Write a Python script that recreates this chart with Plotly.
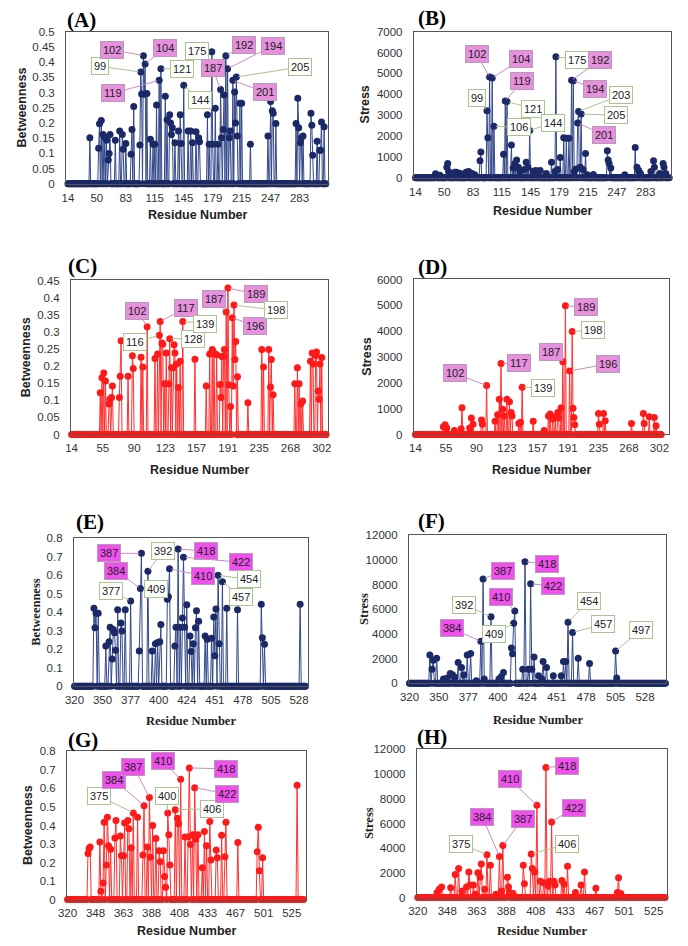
import plotly.graph_objects as go

W, H = 688, 946

# ---------------- data (category position index -> value) ----------------
AB_TICKS = [14, 50, 83, 115, 145, 179, 215, 247, 283]
CD_TICKS = [14, 55, 90, 123, 157, 191, 235, 268, 302]
EF_TICKS = [320, 350, 377, 400, 424, 451, 478, 505, 528]
GH_TICKS = [320, 348, 363, 388, 408, 433, 467, 501, 525]

A_POS = [25, 35, 36, 38, 40, 42, 44, 46, 47, 48, 54, 59, 62, 63, 66, 72, 73, 75, 82, 83, 84, 86, 87, 88, 90,
         94, 97, 99, 101, 104, 106, 111, 113, 116, 117, 118, 119, 122, 126, 128, 129, 132, 137, 140, 142, 146,
         149, 150, 159, 161, 164, 165, 168, 171, 174, 175, 177, 178, 180, 182, 184, 185, 188, 190, 191, 192,
         193, 196, 198, 208, 228, 231, 233, 234, 237, 260, 262, 263, 265, 266, 268, 277, 278, 279, 284, 287,
         288, 289, 292]
A_VAL = [0.151, 0.117, 0.197, 0.208, 0.162, 0.153, 0.143, 0.078, 0.099, 0.162, 0.143, 0.173, 0.162, 0.113,
         0.132, 0.097, 0.178, 0.254, 0.127, 0.367, 0.295, 0.421, 0.294, 0.394, 0.297, 0.146, 0.13, 0.13, 0.259,
         0.340, 0.378, 0.288, 0.21, 0.227, 0.2, 0.162, 0.184, 0.135, 0.173, 0.227, 0.132, 0.324, 0.173, 0.173,
         0.135, 0.171, 0.151, 0.138, 0.227, 0.13, 0.434, 0.13, 0.248, 0.13, 0.31, 0.151, 0.178, 0.292, 0.421,
         0.378, 0.151, 0.173, 0.34, 0.302, 0.2, 0.351, 0.157, 0.265, 0.265, 0.13, 0.157, 0.27, 0.24, 0.232,
         0.198, 0.198, 0.281, 0.184, 0.135, 0.151, 0.157, 0.232, 0.192, 0.094, 0.14, 0.11, 0.11, 0.203, 0.187]
A_COUNT = 295
A_LAB = [99, 102, 104, 119, 121, 144, 175, 187, 192, 194, 201, 205]
A_LAB_POS = [83, 86, 88, 104, 106, 132, 164, 174, 180, 182, 188, 192]

B_POS = [23, 24, 28, 36, 37, 38, 45, 47, 51, 58, 59, 61, 65, 68, 74, 75, 82, 83, 85, 88, 90, 101, 103, 105,
         110, 112, 114, 116, 118, 120, 125, 127, 129, 131, 135, 138, 140, 143, 150, 156, 160, 161, 163, 166,
         170, 173, 176, 179, 181, 182, 184, 186, 187, 189, 190, 192, 195, 197, 204, 220, 221, 222, 224, 240,
         252, 254, 256, 258, 270, 273, 274, 280, 284, 285, 287]
B_VAL = [190, 140, 120, 500, 690, 300, 270, 270, 220, 270, 270, 300, 200, 150, 820, 1240, 3210, 1920, 4830,
         4780, 2470, 1130, 3680, 3650, 1570, 470, 690, 850, 500, 300, 400, 740, 500, 2260, 310, 350, 250, 350,
         200, 740, 300, 5800, 400, 975, 1920, 1890, 1890, 4670, 4650, 300, 420, 2630, 3180, 500, 3050, 400,
         1160, 150, 160, 1290, 850, 690, 470, 150, 1450, 500, 350, 200, 300, 820, 500, 200, 690, 500, 200]
B_COUNT = 292
B_LAB = [99, 102, 104, 106, 119, 121, 144, 175, 192, 194, 201, 203, 205]
B_LAB_POS = [82, 85, 88, 90, 103, 105, 131, 161, 179, 181, 186, 187, 190]

C_POS = [33, 35, 37, 39, 43, 44, 46, 47, 55, 56, 57, 65, 70, 71, 80, 82, 87, 96, 99, 101, 102, 104, 105, 107,
         109, 112, 113, 115, 117, 118, 119, 121, 123, 125, 128, 142, 155, 159, 162, 164, 167, 171, 172, 173,
         175, 176, 178, 180, 181, 183, 185, 186, 187, 188, 189, 191, 203, 219, 221, 227, 229, 230, 232, 257,
         260, 262, 264, 266, 275, 277, 278, 281, 282, 284, 285, 286, 288]
C_VAL = [0.122, 0.166, 0.18, 0.156, 0.089, 0.103, 0.108, 0.142, 0.108, 0.17, 0.274, 0.17, 0.23, 0.193, 0.226,
         0.197, 0.315, 0.222, 0.235, 0.29, 0.33, 0.267, 0.264, 0.148, 0.238, 0.148, 0.28, 0.195, 0.195, 0.262,
         0.238, 0.206, 0.137, 0.214, 0.33, 0.22, 0.142, 0.235, 0.248, 0.238, 0.233, 0.146, 0.108, 0.228, 0.228,
         0.248, 0.358, 0.428, 0.145, 0.082, 0.341, 0.142, 0.378, 0.219, 0.272, 0.169, 0.093, 0.248, 0.197,
         0.248, 0.139, 0.219, 0.116, 0.148, 0.195, 0.148, 0.089, 0.098, 0.214, 0.238, 0.206, 0.231, 0.241,
         0.127, 0.103, 0.206, 0.225]
C_COUNT = 294
C_LAB = [102, 116, 117, 128, 139, 187, 189, 196, 198]
C_LAB_POS = [87, 101, 102, 113, 128, 178, 180, 185, 187]

D_POS = [33, 35, 37, 46, 54, 55, 64, 66, 68, 78, 79, 84, 94, 97, 99, 101, 103, 105, 108, 111, 113, 114, 122,
         124, 126, 139, 152, 157, 159, 162, 165, 168, 169, 172, 174, 177, 182, 185, 186, 187, 188, 216, 217,
         222, 224, 255, 269, 270, 276, 282, 284]
D_VAL = [300, 380, 250, 150, 220, 1040, 250, 635, 400, 560, 400, 1900, 510, 760, 1360, 2750, 980, 720, 1360,
         1270, 850, 720, 430, 470, 1830, 510, 150, 720, 790, 600, 690, 850, 635, 1040, 2820, 4980, 2460, 3990,
         1020, 660, 380, 810, 400, 810, 530, 430, 810, 430, 690, 660, 340]
D_COUNT = 291
D_LAB = [102, 117, 139, 187, 189, 196, 198]
D_LAB_POS = [84, 101, 126, 174, 177, 182, 185]

E_POS = [18, 19, 20, 22, 29, 32, 33, 35, 36, 37, 38, 40, 43, 44, 47, 52, 60, 61, 62, 68, 72, 75, 77, 79, 80,
         86, 87, 88, 93, 94, 96, 98, 100, 101, 102, 104, 107, 108, 110, 112, 113, 115, 121, 123, 127, 129, 130,
         131, 133, 134, 137, 141, 151, 173, 174, 176, 209]
E_VAL = [0.422, 0.316, 0.395, 0.395, 0.218, 0.241, 0.319, 0.147, 0.307, 0.289, 0.195, 0.413, 0.342, 0.298,
         0.413, 0.461, 0.191, 0.528, 0.718, 0.621, 0.191, 0.23, 0.236, 0.241, 0.333, 0.47, 0.484, 0.635, 0.218,
         0.319, 0.741, 0.319, 0.369, 0.697, 0.319, 0.44, 0.271, 0.188, 0.23, 0.316, 0.408, 0.351, 0.271, 0.254,
         0.259, 0.374, 0.165, 0.418, 0.599, 0.23, 0.564, 0.422, 0.413, 0.443, 0.262, 0.227, 0.443]
E_COUNT = 215
E_LAB = [377, 384, 387, 392, 409, 410, 418, 422, 454, 457]
E_LAB_POS = [52, 61, 62, 68, 87, 88, 96, 101, 133, 137]

F_POS = [18, 20, 21, 24, 30, 33, 36, 38, 40, 43, 46, 48, 51, 54, 59, 63, 65, 66, 72, 79, 81, 83, 90, 91, 92,
         93, 100, 102, 105, 107, 108, 110, 114, 117, 118, 121, 127, 134, 136, 138, 140, 144, 149, 159, 182, 183]
F_VAL = [2290, 1140, 1860, 2020, 350, 400, 800, 690, 480, 1680, 1280, 690, 2290, 2420, 210, 3400, 8460, 350,
         5400, 350, 530, 880, 2870, 2390, 4870, 5850, 1140, 9840, 1140, 8060, 1140, 2130, 610, 350, 1760, 1280,
         610, 610, 1760, 1760, 4950, 4120, 2020, 1600, 2610, 430]
F_COUNT = 227
F_LAB = [384, 387, 392, 409, 410, 418, 422, 454, 457, 497]
F_LAB_POS = [63, 65, 72, 92, 93, 102, 107, 140, 144, 182]

G_POS = [19, 20, 21, 30, 31, 33, 34, 36, 37, 38, 40, 44, 45, 49, 50, 52, 53, 56, 57, 59, 61, 65, 70, 71, 74,
         76, 77, 79, 82, 85, 86, 89, 90, 91, 93, 94, 95, 100, 102, 103, 105, 109, 112, 113, 114, 116, 118, 119,
         121, 125, 127, 129, 132, 133, 138, 139, 143, 146, 147, 158, 176, 177, 178, 181, 213]
G_VAL = [0.249, 0.276, 0.284, 0.311, 0.044, 0.089, 0.418, 0.187, 0.444, 0.29, 0.272, 0.332, 0.427, 0.343,
         0.236, 0.236, 0.414, 0.427, 0.382, 0.279, 0.468, 0.444, 0.24, 0.507, 0.284, 0.551, 0.228, 0.4, 0.329,
         0.263, 0.204, 0.263, 0.124, 0.066, 0.468, 0.35, 0.187, 0.485, 0.439, 0.409, 0.649, 0.338, 0.338, 0.711,
         0.297, 0.35, 0.604, 0.325, 0.35, 0.172, 0.368, 0.29, 0.421, 0.213, 0.267, 0.226, 0.347, 0.231, 0.418,
         0.308, 0.258, 0.391, 0.155, 0.226, 0.617]
G_COUNT = 220
G_LAB = [375, 384, 387, 400, 406, 410, 418, 422]
G_LAB_POS = [61, 71, 76, 93, 100, 105, 113, 118]

H_POS = [17, 19, 21, 29, 33, 36, 39, 43, 45, 46, 49, 51, 53, 55, 56, 59, 61, 64, 69, 72, 74, 75, 79, 80, 81,
         84, 93, 94, 100, 101, 103, 105, 108, 111, 113, 115, 116, 118, 120, 121, 127, 129, 132, 139, 144, 147,
         157, 176, 177, 179]
H_VAL = [400, 670, 850, 800, 1870, 2350, 530, 850, 2080, 1010, 1010, 270, 2000, 1650, 2720, 670, 3470, 2610,
         270, 3330, 530, 4210, 1650, 850, 400, 320, 2610, 1120, 3520, 2350, 2080, 7470, 1330, 1200, 10530, 930,
         1330, 6130, 1330, 1010, 1390, 1070, 2530, 400, 1010, 2080, 750, 400, 1600, 320]
H_COUNT = 219
H_LAB = [375, 384, 387, 406, 410, 418, 422]
H_LAB_POS = [61, 72, 75, 100, 105, 113, 118]

PINK_AD = {104, 119, 192, 194, 201, 102, 117, 187, 189, 196}
PINK_EH = {384, 387, 410, 418, 422}

# ---------------- styling / placement ----------------
NAVY = "#1b2a66"
NAVY_LINE = "#34488a"
RED = "#ff1a1a"
RED_LINE = "#ff3030"
FRAME = "#555555"
SANS = "Liberation Sans, Arial, sans-serif"
SERIF = "Liberation Serif, Times New Roman, serif"

A_OFFS = [(-41, -6), (-31, -6), (20, -16), (-46, 13), (21, 0), (16, 15), (-15, -1), (-8, -21), (18, -11),
          (45, -23), (32, 12), (64, -10)]
B_OFFS = [(-10, -13), (-13, -23), (29, -19), (25, 1), (17, -20), (26, 7), (23, -8), (21, 3), (28, -20),
          (22, 8), (26, 12), (42, -16), (35, 1)]
C_OFFS = [(-10, -16), (-24, 7), (26, -14), (23, 0), (22, 2), (-12, -13), (28, 6), (23, 8), (42, 5)]
D_OFFS = [(-32, -12), (18, 0), (21, 1), (-12, -10), (21, 1), (38, -7), (21, -1)]
E_OFFS = [(-20, -10), (-24, -18), (-32, 0), (15, -20), (-12, -8), (33, 7), (28, 2), (57, 5), (31, 4), (19, 15)]
F_OFFS = [(-29, -13), (20, -8), (-27, -12), (-20, 11), (-14, -14), (22, 2), (22, 2), (21, -21), (30, -8),
          (25, -21)]
G_OFFS = [(-34, -17), (-30, -26), (-16, -31), (-1, -17), (37, -1), (-18, -18), (37, 1), (32, 6)]
H_OFFS = [(-26, -11), (-17, -39), (20, -27), (36, -10), (-27, -26), (21, -2), (22, -14)]

panels = [
    dict(letter="(A)", pos=A_POS, val=A_VAL, n=A_COUNT, step=33, ticks=AB_TICKS, lab=A_LAB, labpos=A_LAB_POS,
         offs=A_OFFS, pink=PINK_AD, pinkc="#e690de", red=False, frame=(58, 325, 26, 180), xr=(-2.2, 296.8),
         ymax=0.5, dy=0.05, ytitle="Betweenness", yfont=SANS, ytx=13, xfont=SANS, xty=212, letterxy=(74, 14)),
    dict(letter="(B)", pos=B_POS, val=B_VAL, n=B_COUNT, step=33, ticks=AB_TICKS, lab=B_LAB, labpos=B_LAB_POS,
         offs=B_OFFS, pink=PINK_AD, pinkc="#e690de", red=False, frame=(412, 674, 26, 174), xr=(-1.9, 293.3),
         ymax=7000, dy=1000, ytitle="Stress", yfont=SANS, ytx=362, xfont=SANS, xty=208, letterxy=(431, 12)),
    dict(letter="(C)", pos=C_POS, val=C_VAL, n=C_COUNT, step=36, ticks=CD_TICKS, lab=C_LAB, labpos=C_LAB_POS,
         offs=C_OFFS, pink=PINK_AD, pinkc="#e690de", red=True, frame=(63, 325, 278, 434), xr=(-0.8, 295.6),
         ymax=0.45, dy=0.05, ytitle="Betweenness", yfont=SANS, ytx=18, xfont=SANS, xty=470, letterxy=(75, 263)),
    dict(letter="(D)", pos=D_POS, val=D_VAL, n=D_COUNT, step=36, ticks=CD_TICKS, lab=D_LAB, labpos=D_LAB_POS,
         offs=D_OFFS, pink=PINK_AD, pinkc="#e690de", red=True, frame=(412, 672, 277, 434), xr=(-1.9, 299.6),
         ymax=6000, dy=1000, ytitle="Stress", yfont=SANS, ytx=364, xfont=SANS, xty=470, letterxy=(431, 264)),
    dict(letter="(E)", pos=E_POS, val=E_VAL, n=E_COUNT, step=26, ticks=EF_TICKS, lab=E_LAB, labpos=E_LAB_POS,
         offs=E_OFFS, pink=PINK_EH, pinkc="#f050ee", red=False, frame=(66, 304, 539, 689), xr=(-0.6, 216),
         ymax=0.8, dy=0.1, ytitle="Betweenness", yfont=SERIF, ytx=28, xfont=SERIF, xty=724, letterxy=(82, 523)),
    dict(letter="(F)", pos=F_POS, val=F_VAL, n=F_COUNT, step=26, ticks=EF_TICKS, lab=F_LAB, labpos=F_LAB_POS,
         offs=F_OFFS, pink=PINK_EH, pinkc="#f050ee", red=False, frame=(407, 669, 536, 686), xr=(-0.5, 226.8),
         ymax=12000, dy=2000, ytitle="Stress", yfont=SERIF, ytx=362, xfont=SERIF, xty=723, letterxy=(430, 522)),
    dict(letter="(G)", pos=G_POS, val=G_VAL, n=G_COUNT, step=26, ticks=GH_TICKS, lab=G_LAB, labpos=G_LAB_POS,
         offs=G_OFFS, pink=PINK_EH, pinkc="#f050ee", red=True, frame=(59, 302, 755, 905), xr=(-0.5, 221),
         ymax=0.8, dy=0.1, ytitle="Betweenness", yfont=SANS, ytx=20, xfont=SANS, xty=937, letterxy=(75, 743)),
    dict(letter="(H)", pos=H_POS, val=H_VAL, n=H_COUNT, step=26, ticks=GH_TICKS, lab=H_LAB, labpos=H_LAB_POS,
         offs=H_OFFS, pink=PINK_EH, pinkc="#f050ee", red=True, frame=(415, 670, 753, 903), xr=(-0.9, 220),
         ymax=12000, dy=2000, ytitle="Stress", yfont=SERIF, ytx=367, xfont=SERIF, xty=937, letterxy=(431, 740)),
]

fig = go.Figure()
annotations = []
axes = {}
TICKFONT = dict(family=SANS, size=11.5, color="#333333")

for i, p in enumerate(panels):
    sfx = "" if i == 0 else str(i + 1)
    ys = [0.0] * p["n"]
    for q, v in zip(p["pos"], p["val"]):
        ys[q] = v
    xs = list(range(p["n"]))
    mc = RED if p["red"] else NAVY
    lc = RED_LINE if p["red"] else NAVY_LINE
    fig.add_trace(go.Scatter(x=xs, y=ys, mode="lines+markers", xaxis="x" + sfx, yaxis="y" + sfx,
                             line=dict(color=lc, width=1), marker=dict(color=mc, size=7),
                             cliponaxis=False, showlegend=False, hoverinfo="skip"))
    x0, x1, y0, y1 = p["frame"]
    nt = int(round(p["ymax"] / p["dy"]))
    yv = [round(j * p["dy"], 4) for j in range(nt + 1)]
    yt = [f"{v:g}" for v in yv]
    axes["xaxis" + sfx] = dict(domain=[x0 / W, x1 / W], range=list(p["xr"]), anchor="y" + sfx,
                               tickmode="array", tickvals=[j * p["step"] for j in range(len(p["ticks"]))],
                               ticktext=[str(t) for t in p["ticks"]], showgrid=False, zeroline=False,
                               showline=True, mirror=True, linecolor=FRAME, linewidth=1, ticks="",
                               tickfont=TICKFONT, ticklabelstandoff=3, fixedrange=True)
    axes["yaxis" + sfx] = dict(domain=[1 - y1 / H, 1 - y0 / H], range=[0, p["ymax"]], anchor="x" + sfx,
                               tickmode="array", tickvals=yv, ticktext=yt, showgrid=False, zeroline=False,
                               showline=True, mirror=True, linecolor=FRAME, linewidth=1, ticks="",
                               tickfont=TICKFONT, ticklabelstandoff=8, fixedrange=True)
    # data labels
    for res, lp, (ax, ay) in zip(p["lab"], p["labpos"], p["offs"]):
        pk = res in p["pink"]
        annotations.append(dict(
            x=lp, y=ys[lp], xref="x" + sfx, yref="y" + sfx, text=str(res), showarrow=True,
            arrowhead=0, arrowwidth=1, arrowcolor=("#c98cc4" if pk else "#a9c48c"), ax=ax, ay=ay,
            standoff=2, bgcolor=(p["pinkc"] if pk else "#ffffff"),
            bordercolor=("#b79ab4" if pk else "#a9c48c"), borderwidth=1, borderpad=2,
            font=dict(family=SANS, size=11, color="#222222")))
    # panel letter
    lx, ly = p["letterxy"]
    annotations.append(dict(x=lx / W, y=1 - ly / H, xref="paper", yref="paper", text="<b>" + p["letter"] + "</b>",
                            showarrow=False, font=dict(family=SERIF, size=21, color="#000000"),
                            xanchor="center", yanchor="middle"))
    # axis titles
    annotations.append(dict(x=p["ytx"] / W, y=1 - (y0 + y1) / 2 / H, xref="paper", yref="paper",
                            text="<b>" + p["ytitle"] + "</b>", textangle=-90, showarrow=False,
                            font=dict(family=p["yfont"], size=12.5, color="#222222"),
                            xanchor="center", yanchor="middle"))
    annotations.append(dict(x=(x0 + x1) / 2 / W, y=1 - p["xty"] / H, xref="paper", yref="paper",
                            text="<b>Residue Number</b>", showarrow=False,
                            font=dict(family=p["xfont"], size=12.5, color="#222222"),
                            xanchor="center", yanchor="middle"))

fig.update_layout(width=W, height=H, margin=dict(l=0, r=0, t=0, b=0), paper_bgcolor="white",
                  plot_bgcolor="white", showlegend=False, annotations=annotations, **axes)
fig.write_html("out.html", config={"displayModeBar": False},
               post_script="document.body.style.margin='0';document.body.style.overflow='hidden';")
